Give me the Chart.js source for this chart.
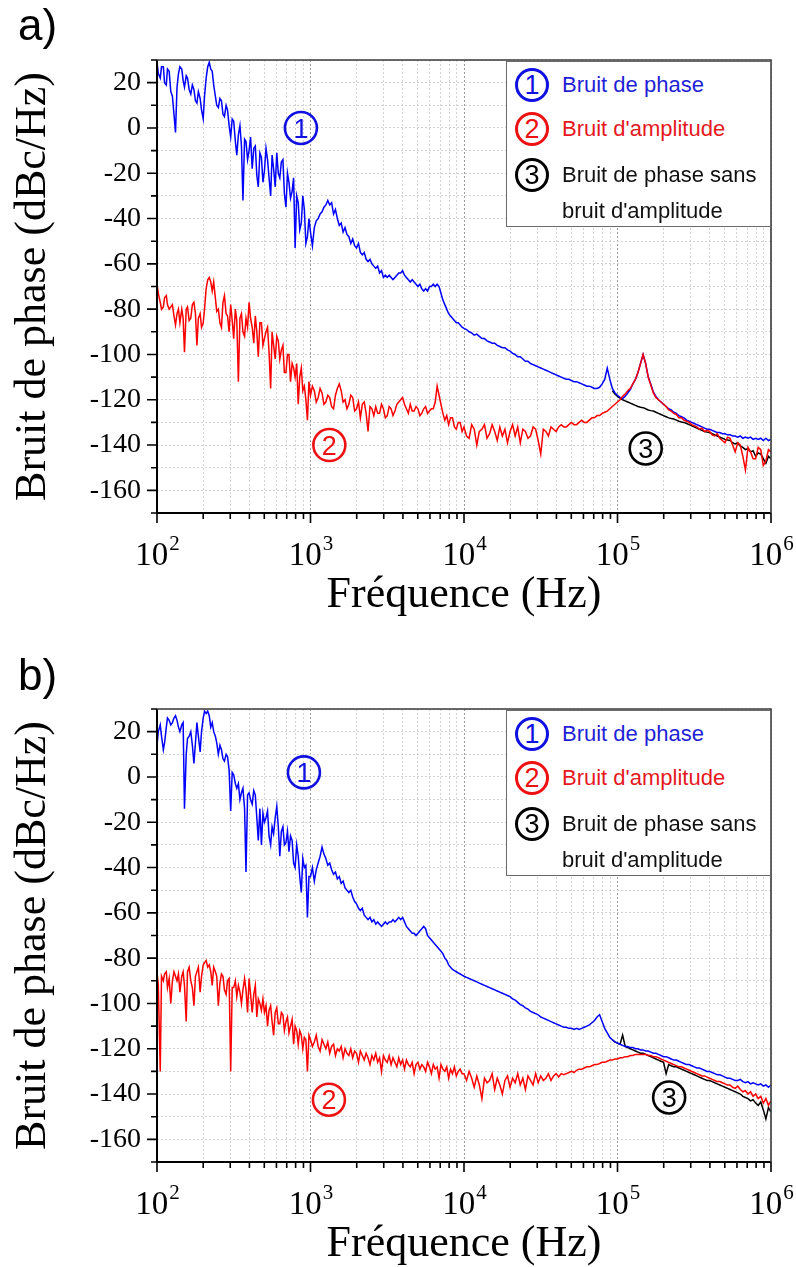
<!DOCTYPE html>
<html>
<head>
<meta charset="utf-8">
<script src="https://cdn.jsdelivr.net/npm/chart.js@4.4.1/dist/chart.umd.min.js"></script>
<style>
  html, body { margin: 0; padding: 0; background: #fff; overflow: hidden; }
  #page { position: relative; width: 796px; height: 1267px; }
  canvas { position: absolute; left: 0; }
  .tag { position: absolute; left: 18px; font: 44px/44px "Liberation Sans", Arial, sans-serif; color: #000; }
  .legend { position: absolute; left: 506px; width: 265px; height: 166px; background: #fff;
            border: 1px solid #6a6a6a; box-sizing: border-box; font-family: "Liberation Sans", Arial, sans-serif; }
  .row { position: absolute; left: 0; right: 0; height: 34px; display: flex; align-items: center; font-size: 22px; white-space: nowrap; }
  .ring { position: absolute; left: 8px; top: 0; width: 34px; height: 34px; box-sizing: border-box; border: 3px solid;
          border-radius: 50%; display: flex; align-items: center; justify-content: center; font-size: 27px; line-height: 1; }
  .txt { position: absolute; left: 55px; }
</style>
</head>
<body>
<div id="page">
  <canvas id="chartA" width="796" height="625" style="top:0"></canvas>
  <canvas id="chartB" width="796" height="618" style="top:649px"></canvas>
  <div class="tag" style="top:3px">a)</div>
  <div class="tag" style="top:653px">b)</div>
  <div class="legend" id="legA" style="top:61px"></div>
  <div class="legend" id="legB" style="top:710px"></div>
</div>
<script>
/* ── données ────────────────────────────────────────────────────── */

// fréquences (Hz), communes aux deux panneaux : 100 / 80 / 60 / 61 points par décade
const FREQ = [
  100, 102, 105, 107, 110, 112, 115, 117, 120, 123, 126, 129, 132, 135, 138, 141, 145, 148, 151, 155,
  158, 162, 166, 170, 174, 178, 182, 186, 191, 195, 200, 204, 209, 214, 219, 224, 229, 234, 240, 245,
  251, 257, 263, 269, 275, 282, 288, 295, 302, 309, 316, 324, 331, 339, 347, 355, 363, 372, 380, 389,
  398, 407, 417, 427, 437, 447, 457, 468, 479, 490, 501, 513, 525, 537, 550, 562, 575, 589, 603, 617,
  631, 646, 661, 676, 692, 708, 724, 741, 759, 776, 794, 813, 832, 851, 871, 891, 912, 933, 955, 977,
  1000, 1029, 1059, 1090, 1122, 1155, 1189, 1223, 1259, 1296, 1334, 1373, 1413, 1454, 1496, 1540, 1585, 1631, 1679, 1728,
  1778, 1830, 1884, 1939, 1995, 2054, 2113, 2175, 2239, 2304, 2371, 2441, 2512, 2585, 2661, 2738, 2818, 2901, 2985, 3073,
  3162, 3255, 3350, 3447, 3548, 3652, 3758, 3868, 3981, 4097, 4217, 4340, 4467, 4597, 4732, 4870, 5012, 5158, 5309, 5464,
  5623, 5788, 5957, 6131, 6310, 6494, 6683, 6879, 7079, 7286, 7499, 7718, 7943, 8175, 8414, 8660, 8913, 9173, 9441, 9716,
  10000, 10391, 10798, 11220, 11659, 12115, 12589, 13082, 13594, 14125, 14678, 15252, 15849, 16469, 17113, 17783, 18478, 19201, 19953, 20733,
  21544, 22387, 23263, 24173, 25119, 26102, 27123, 28184, 29286, 30432, 31623, 32860, 34145, 35481, 36869, 38312, 39811, 41369, 42987, 44668,
  46416, 48232, 50119, 52080, 54117, 56234, 58434, 60720, 63096, 65566, 68129, 70795, 73564, 76443, 79433, 82540, 85770, 89125, 92611, 96235,
  100000, 103912, 107978, 112202, 116591, 121153, 125893, 130818, 135936, 141254, 146780, 152522, 158489, 164690, 171133, 177828, 184785, 192014, 199526, 207332,
  215443, 223872, 232631, 241732, 251189, 261016, 271227, 281838, 292864, 304325, 316228, 328597, 341455, 354813, 368695, 383119, 398107, 413681, 429866, 446684,
  464159, 482318, 501187, 520795, 541170, 562341, 584341, 607202, 630957, 655642, 681292, 707946, 735642, 764422, 794328, 825404, 857696, 891251, 926119, 962351,
  1000000
];

// a) bruit de phase (1)
const A_PHASE = [
  29, 24, 22, 27, 27, 20, 19, 26, 25, 16, 14, 6, -2, 18, 24, 27, 26, 21, 18, 23,
  22, 17, 15, 19, 17, 12, 11, 16, 13, 8, 4, 14, 22, 27, 29, 26, 25, 19, 14, 10,
  9, 13, 12, 6, 5, 10, 8, 1, -4, 4, 3, -6, -12, -3, 1, -8, -32, -5, -6, -14,
  -10, -4, -18, -9, -8, -21, -26, -11, -13, -24, -19, -9, -14, -22, -30, -12, -18, -26, -11, -20,
  -22, -15, -14, -29, -35, -20, -24, -31, -28, -22, -53, -30, -33, -45, -42, -30, -36, -51, -48, -40,
  -46, -52, -44, -41, -40, -38, -37, -35, -34, -32, -34, -33, -38, -36, -40, -43, -42, -46, -44, -47,
  -48, -51, -49, -52, -53, -51, -55, -56, -55, -58, -59, -58, -60, -61, -62, -61, -64, -63, -66, -65,
  -66, -65, -66, -67, -66, -65, -64, -64, -63, -65, -66, -67, -68, -67, -68, -69, -70, -69, -71, -72,
  -71, -72, -70, -70, -69, -70, -69, -70, -73, -76, -78, -80, -82, -83, -84, -85, -86, -86, -87, -88,
  -88.5, -89, -90, -90.5, -91.5, -91, -92, -93, -93, -94, -94.5, -95, -95, -96, -96.5, -97, -97, -98, -98.5, -99.5,
  -100, -101, -101, -102, -103, -103, -104, -104.5, -105, -105.5, -106, -106.5, -107, -107.5, -108, -108.5, -109, -109.5, -110, -110.5,
  -111, -111, -111.5, -112, -112, -112.5, -113, -113.5, -114, -114, -114.5, -115, -115, -114.5, -113, -111, -106, -111, -115, -117,
  -118, -119, -119.5, -118.5, -117, -115.5, -113, -111, -108, -104, -100, -104, -110, -113, -116.5, -118.5, -120, -121, -122, -123,
  -124, -124.5, -125.5, -126, -127, -127.5, -128, -129, -129.5, -130, -130.5, -131, -131.5, -132, -132.5, -133, -133, -133.5, -134, -134.5,
  -134.5, -135, -135, -135.5, -135.5, -136, -136, -136.5, -136, -137, -136.5, -137, -136.5, -137.5, -137, -137.5, -137, -138, -137, -138,
  -137.5
];
// a) bruit d'amplitude (2)
const A_AMP = [
  -69, -73, -77, -80, -79, -75, -74, -78, -80, -79, -78, -83, -87, -82, -80, -86, -80, -84, -99, -80,
  -79, -85, -84, -78, -77, -82, -96, -84, -82, -88, -86, -80, -71, -67, -66, -68, -72, -68, -75, -81,
  -80, -86, -88, -77, -74, -82, -83, -90, -78, -85, -93, -80, -85, -112, -84, -82, -90, -92, -84, -88,
  -77, -84, -88, -95, -83, -90, -101, -86, -86, -96, -93, -90, -88, -99, -115, -90, -96, -102, -92, -94,
  -102, -98, -96, -108, -108, -100, -100, -112, -104, -106, -110, -104, -122, -110, -106, -116, -114, -120, -129, -112,
  -118, -114, -116, -121, -119, -115, -117, -122, -121, -118, -119, -123, -124, -118, -115, -113, -116, -121, -120, -124,
  -122, -118, -119, -125, -124, -121, -128, -122, -121, -126, -134, -123, -124, -127, -123, -126, -126, -122, -124, -128,
  -127, -123, -124, -127, -125, -122, -121, -120, -119, -122, -124, -126, -122, -125, -125, -123, -124, -127, -126, -124,
  -123, -126, -125, -124, -124, -121, -114, -118, -122, -126, -129, -127, -131, -128, -128, -132, -133, -130, -130, -134,
  -132, -136, -137, -131, -133, -140, -134, -133, -131, -137, -135, -131, -134, -138, -132, -136, -133, -139, -134, -131,
  -136, -132, -139, -133, -134, -137, -136, -132, -133, -138, -144, -133, -134, -136, -132, -133, -134, -132, -131, -132,
  -132, -131, -130, -131, -131, -130, -129, -130, -130, -129, -128, -128, -127, -127, -126, -125.5, -125, -124, -123, -122,
  -121, -120, -118.5, -117.5, -116, -115, -113, -111, -108, -104, -100, -104, -110, -113.5, -117, -119, -120, -121, -122, -123,
  -124.5, -125, -126, -126.5, -128, -128, -129, -129.5, -130, -131, -131.5, -132, -133, -132.5, -134, -133.5, -134, -135.5, -136, -135,
  -137, -138, -139, -136.5, -137, -140, -143, -139, -140, -145, -151, -141, -143, -146, -146, -141, -142, -149, -147, -142,
  -143
];
// a) bruit de phase sans bruit d'amplitude (3), de 92.6 kHz à 1 MHz
const A_PURE = [
  -116, -117.5,
  -118.5, -119.3, -120, -120.5, -121, -121.5, -122, -122.5, -123, -123.3, -123.5, -124, -124.5, -124.8, -125, -125.5, -126, -126.5, -127, -127.5,
  -128, -128.3, -128.5, -129, -129.5, -129.8, -130, -130.5, -131, -131.5, -132, -132.5, -133, -133.5, -134, -134.3, -134.5, -135, -135.5, -136,
  -136.5, -137, -137.5, -137.8, -138, -139, -139.5, -139, -140.5, -141, -142, -141.5, -143, -142.5, -145, -143.5, -144, -146, -148, -145,
  -146
];

// b) bruit de phase (1)
const B_PHASE = [
  14, 20, 23, 18, 12, 15, 22, 26, 25, 23, 24, 26, 27, 25, 22, 20, 23, 24, -14, 10,
  17, 18, 20, 14, 6, 15, 24, 18, 11, 20, 26, 29, 28, 29, 27, 22, 24, 20, 18, 15,
  10, 14, 12, 8, 7, 10, 9, 3, -15, 2, 1, -3, -5, -3, -10, -7, -5, -14, -42, -8,
  -7, -10, -12, -6, -8, -18, -28, -14, -30, -16, -20, -18, -15, -26, -30, -22, -25, -18, -13, -22,
  -35, -24, -22, -30, -29, -24, -33, -26, -28, -38, -40, -30, -35, -44, -51, -36, -40, -39, -62, -44,
  -44, -40, -46, -41, -38, -35, -31, -34, -36, -39, -38, -41, -43, -42, -45, -44, -47, -46, -49, -50,
  -51, -50, -53, -55, -56, -58, -59, -58, -61, -62, -63, -62, -64, -63, -65, -64, -65, -66, -65, -64,
  -65, -64, -64, -63, -64, -63, -62, -63, -62, -64, -66, -67, -68, -69, -69, -70, -69, -68, -67, -66,
  -67, -70, -71, -72, -73, -74, -75, -76, -77, -78, -80, -81, -83, -84, -85, -85.5, -86, -86.5, -87, -87.5,
  -88, -88.5, -89, -89.5, -90, -90.5, -91, -91.5, -92, -92.5, -93, -93.5, -94, -94.5, -95, -95.5, -96, -96.5, -97, -98,
  -98.5, -99.5, -100.5, -101, -102, -102.5, -103.5, -104, -104.5, -105, -106, -106.5, -107, -107.5, -108, -108.5, -109, -109.5, -110, -110.5,
  -110.5, -111, -111, -111.5, -111, -111.5, -111, -110.5, -110, -109.5, -108.5, -107.5, -106, -105, -108, -111, -113, -115, -116, -117,
  -117.5, -118, -118.5, -119, -119, -119.5, -119.5, -120, -120, -120.5, -120.5, -121, -121, -121.5, -122, -122, -122.5, -123, -123.5, -123.5,
  -124, -124.5, -125, -125, -125.5, -126, -126.5, -127, -127, -127.5, -128, -128.5, -128.5, -129, -129.5, -130, -130, -130.5, -131, -131.5,
  -131.5, -132, -132.5, -133, -133, -133.5, -134, -134, -133.5, -134.5, -135, -134.5, -135.5, -135, -135.5, -136, -135.5, -136.5, -136, -137,
  -136
];
// b) bruit d'amplitude (2)
const B_AMP = [
  -86, -92, -130, -88, -90, -87, -86, -93, -89, -100, -90, -86, -88, -90, -87, -95, -88, -86, -92, -108,
  -86, -84, -90, -93, -101, -88, -86, -84, -95, -88, -83, -82, -81, -84, -83, -86, -92, -84, -86, -88,
  -101, -91, -87, -88, -94, -96, -90, -89, -130, -93, -93, -90, -97, -92, -95, -100, -94, -89, -94, -104,
  -89, -96, -104, -96, -92, -106, -98, -100, -103, -98, -104, -101, -110, -103, -101, -108, -114, -104, -102, -109,
  -109, -104, -105, -112, -108, -106, -113, -110, -107, -118, -110, -112, -118, -112, -114, -120, -115, -116, -130, -114,
  -116, -119, -117, -114, -119, -121, -116, -118, -120, -117, -122, -119, -118, -123, -120, -121, -119, -124, -120, -122,
  -123, -120, -124, -121, -122, -126, -121, -123, -125, -122, -124, -127, -123, -125, -122, -126, -124, -130, -123, -125,
  -126, -123, -127, -124, -126, -128, -124, -127, -125, -129, -125, -127, -128, -126, -131, -127, -126, -129, -127, -128,
  -130, -126, -128, -131, -127, -129, -128, -133, -127, -129, -130, -128, -133, -129, -131, -128, -132, -130, -129, -131,
  -131, -134, -130, -133, -137, -132, -136, -142, -133, -135, -134, -131, -138, -133, -136, -140, -134, -132, -137, -133,
  -135, -131, -136, -133, -138, -132, -134, -136, -131, -135, -132, -134, -133, -131, -134, -132, -131, -132.5, -131, -131.5,
  -131, -130.5, -130, -130.5, -129.5, -129, -129, -128.5, -128, -128, -127.5, -127, -127, -126.5, -126, -126, -125.5, -125, -125, -124.5,
  -124.5, -124, -124, -123.5, -123.5, -123, -123, -122.5, -122.5, -122.5, -122.5, -122.5, -123, -123, -123.5, -123.5, -124, -124.5, -125, -125.5,
  -126, -126.5, -127, -127.5, -128, -128, -128.5, -129, -129.5, -130, -130.5, -131, -131.5, -132, -132, -132.5, -133, -133.5, -134, -134.5,
  -134.5, -135, -135.5, -136, -136, -137, -137.5, -136.5, -138, -139, -138.5, -140, -139, -141, -140, -142, -141, -144, -142, -145,
  -143
];
// b) bruit de phase sans bruit d'amplitude (3), de 92.6 kHz à 1 MHz
const B_PURE = [
  -116, -117,
  -117.5, -118, -114, -119, -119.5, -120, -120.5, -121, -121.5, -122, -122, -122.5, -123, -123.5, -124, -124.5, -125, -125.5, -126, -131,
  -127, -127.5, -128, -128, -128.5, -129, -129.5, -130, -130.5, -131, -131.5, -132, -132.5, -133, -133.5, -134, -134, -134.5, -135, -135.5,
  -136, -136.5, -137, -137.5, -138, -138.5, -139, -139.5, -140, -141, -141.5, -142, -143, -142.5, -144, -145, -143.5, -147, -151, -146,
  -148
];

// axes
const X_DECADES = [100, 1000, 10000, 100000, 1000000];
const X_EXP = ['2', '3', '4', '5', '6'];
const Y_MIN = -170, Y_MAX = 30;

const LEGEND_LABELS = ['Bruit de phase', "Bruit d'amplitude", 'Bruit de phase sans', "bruit d'amplitude"];
const LEGEND_NUMS = ['1', '2', '3', ''];

// repères cerclés dans le tracé : [fréquence, niveau, numéro]
const NOTES_A = [[866, 0, '1'], [1327, -140, '2'], [152700, -141.5, '3']];
const NOTES_B = [[906, 2, '1'], [1318, -142.5, '2'], [217000, -141.5, '3']];

/* ── style ─────────────────────────────────────────────────────── */
const SERIF = '"Liberation Serif", "Times New Roman", serif';
const SANS = '"Liberation Sans", Arial, sans-serif';
const BLUE = '#0000ff', RED = '#ff0000', BLACK = '#000000';
const NOTE_COLORS = { '1': '#1010e0', '2': '#ee1111', '3': '#000000' };
const TEXT_COLORS = ['#1f1fd6', '#e5181e', '#111', '#111'];

const X_GRID = [];
X_DECADES.slice(0, -1).forEach(d => { for (let m = 1; m <= 9; m++) X_GRID.push(d * m); });
X_GRID.push(1000000);

function buildLegend(el) {
  const centers = [23, 67, 113, 149];
  el.innerHTML = LEGEND_LABELS.map((lab, i) => {
    const ring = LEGEND_NUMS[i]
      ? `<span class="ring" style="color:${NOTE_COLORS[LEGEND_NUMS[i]]};border-color:${NOTE_COLORS[LEGEND_NUMS[i]]}">${LEGEND_NUMS[i]}</span>`
      : '';
    return `<div class="row" style="top:${centers[i] - 17}px">${ring}<span class="txt" style="color:${TEXT_COLORS[i]}">${lab}</span></div>`;
  }).join('');
}

const axisMarks = {
  id: 'axisMarks',
  afterDraw(chart) {
    const { ctx, chartArea: a, scales: { x, y } } = chart;
    ctx.save();
    // graduations
    ctx.strokeStyle = '#000';
    ctx.lineWidth = 1.6;
    ctx.beginPath();
    X_GRID.forEach(v => {
      const px = x.getPixelForValue(v);
      const len = X_DECADES.includes(v) ? 10 : 6;
      ctx.moveTo(px, a.bottom);
      ctx.lineTo(px, a.bottom + len);
    });
    y.ticks.forEach(t => {
      const py = y.getPixelForValue(t.value);
      const len = t.value % 20 === 0 ? 10 : 6;
      ctx.moveTo(a.left, py);
      ctx.lineTo(a.left - len, py);
    });
    ctx.stroke();
    // cadre
    ctx.lineWidth = 2;
    ctx.beginPath();
    ctx.moveTo(a.left, a.top);
    ctx.lineTo(a.left, a.bottom);
    ctx.lineTo(a.right, a.bottom);
    ctx.stroke();
    ctx.strokeStyle = '#3a3a3a';
    ctx.lineWidth = 1.6;
    ctx.beginPath();
    ctx.moveTo(a.left, a.top);
    ctx.lineTo(a.right, a.top);
    ctx.lineTo(a.right, a.bottom);
    ctx.stroke();
    // étiquettes 10^n
    ctx.fillStyle = '#000';
    ctx.textAlign = 'left';
    ctx.textBaseline = 'alphabetic';
    X_DECADES.forEach((v, i) => {
      const px = x.getPixelForValue(v);
      ctx.font = '33px ' + SERIF;
      const w1 = ctx.measureText('10').width;
      ctx.font = '21px ' + SERIF;
      const w2 = ctx.measureText(X_EXP[i]).width;
      const left = px - (w1 + w2) / 2;
      ctx.font = '33px ' + SERIF;
      ctx.fillText('10', left, a.bottom + 52);
      ctx.font = '21px ' + SERIF;
      ctx.fillText(X_EXP[i], left + w1 + 1, a.bottom + 37);
    });
    ctx.restore();
  }
};

function notesPlugin(notes) {
  return {
    id: 'notes',
    afterDatasetsDraw(chart) {
      const { ctx, scales: { x, y } } = chart;
      ctx.save();
      notes.forEach(([f, v, n]) => {
        const cx = x.getPixelForValue(f), cy = y.getPixelForValue(v);
        ctx.strokeStyle = ctx.fillStyle = NOTE_COLORS[n];
        ctx.lineWidth = 2.6;
        ctx.beginPath();
        ctx.arc(cx, cy, 16, 0, Math.PI * 2);
        ctx.stroke();
        ctx.font = '27px ' + SANS;
        ctx.textAlign = 'center';
        ctx.textBaseline = 'alphabetic';
        ctx.fillText(n, cx, cy + 9.7);
      });
      ctx.restore();
    }
  };
}

function buildPanel(id, phase, amp, pure, notes, xAxisH, xTitlePad) {
  const pts = ys => ys.map((y, i) => ({ x: FREQ[i], y }));
  const tail = FREQ.slice(FREQ.length - pure.length);
  const line = { pointRadius: 0, borderWidth: 1.5, fill: false, tension: 0 };

  new Chart(document.getElementById(id), {
    type: 'line',
    data: {
      datasets: [
        { ...line, data: pts(amp), borderColor: RED },
        { ...line, data: pts(phase), borderColor: BLUE },
        { ...line, data: pure.map((y, i) => ({ x: tail[i], y })), borderColor: BLACK },
      ]
    },
    options: {
      responsive: false,
      animation: false,
      layout: { padding: { top: 60, right: 25, left: 0, bottom: 0 } },
      plugins: { legend: { display: false }, tooltip: { enabled: false } },
      scales: {
        x: {
          type: 'logarithmic',
          min: 100,
          max: 1000000,
          afterFit: s => { s.height = xAxisH; },
          afterBuildTicks: s => { s.ticks = X_GRID.map(v => ({ value: v })); },
          ticks: { display: false, autoSkip: false },
          grid: {
            color: c => ([1000, 10000, 100000].includes(c.tick && c.tick.value) ? '#9c9c9c' : '#d3d3d3'),
            lineWidth: 1,
            drawTicks: false
          },
          border: { display: false, dash: [2, 2] },
          title: {
            display: true, text: 'Fréquence (Hz)', color: '#000',
            font: { family: SERIF, size: 44, lineHeight: 1 },
            padding: { top: 0, bottom: xTitlePad }
          }
        },
        y: {
          min: Y_MIN,
          max: Y_MAX,
          afterFit: s => { s.width = 157; },
          ticks: {
            stepSize: 10, autoSkip: false, padding: 16, color: '#000',
            font: { family: SERIF, size: 28 },
            callback: v => (v % 20 === 0 ? String(v) : '')
          },
          grid: { color: '#d3d3d3', lineWidth: 1, drawTicks: false },
          border: { display: false, dash: [2, 2] },
          title: {
            display: true, text: 'Bruit de phase (dBc/Hz)', color: '#000',
            font: { family: SERIF, size: 44, lineHeight: 1 },
            padding: { top: 11, bottom: 0 }
          }
        }
      }
    },
    plugins: [axisMarks, notesPlugin(notes)]
  });
}

buildPanel('chartA', A_PHASE, A_AMP, A_PURE, NOTES_A, 112, 8);
buildPanel('chartB', B_PHASE, B_AMP, B_PURE, NOTES_B, 105, 1);
buildLegend(document.getElementById('legA'));
buildLegend(document.getElementById('legB'));
</script>
</body>
</html>
